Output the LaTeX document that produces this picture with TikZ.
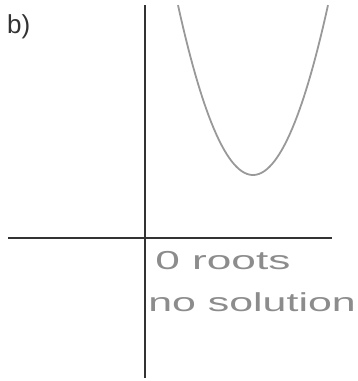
\documentclass[tikz,border=0pt]{standalone}
\usepackage{fontspec}
\setmainfont{Liberation Sans}
\begin{document}
\begin{tikzpicture}[x=1pt,y=-1pt,
  axis/.style={draw=black!80,line width=1.8pt},
  curve/.style={draw=black!40,line width=1.8pt},
  hand/.style={text=black!45,font=\fontsize{26}{28}\selectfont,inner sep=0pt,anchor=west}]
\useasboundingbox (0,0) rectangle (358,381);
\coordinate (yt) at (145,5);
\coordinate (yb) at (145,378);
\coordinate (xl) at (8,238);
\coordinate (xr) at (332,238);
\draw[axis] (yt) -- (yb);
\draw[axis] (xl) -- (xr);
\draw[curve] plot[domain=178:328,samples=60] (\x,{175-0.0302*(\x-253)^2});
\node[inner sep=0pt,anchor=west,text=black!80,font=\fontsize{26}{28}\selectfont] (lab) at (7,27) {b)};
\node[hand,xscale=1.7] (t1) at (155,261) {0 roots};
\node[hand,xscale=1.65] (t2) at (148,302) {no solution};
\end{tikzpicture}
\end{document}
